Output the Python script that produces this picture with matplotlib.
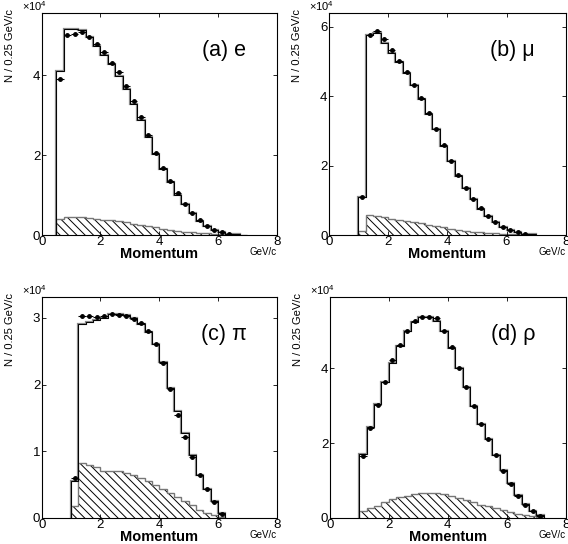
import matplotlib.pyplot as plt
import numpy as np

plt.rcParams['font.family'] = ['Liberation Sans', 'DejaVu Sans']
plt.rcParams['mathtext.fontset'] = 'custom'
plt.rcParams['mathtext.rm'] = 'Liberation Sans'
plt.rcParams['hatch.linewidth'] = 0.7

# valores en unidades de 1e4, bines de 0.25 GeV/c
inicio_e = 0.5
mc_e = [4.10, 5.14, 5.14, 5.12, 4.96, 4.72, 4.50, 4.27, 3.97, 3.64, 3.27, 2.87, 2.44,
        2.02, 1.64, 1.33, 1.00, 0.77, 0.54, 0.36, 0.22, 0.125, 0.07, 0.035, 0.015]
datos_e = [3.89, 5.00, 5.02, 5.08, 4.94, 4.77, 4.57, 4.31, 4.07, 3.72, 3.34, 2.94, 2.51,
           2.06, 1.68, 1.34, 1.04, 0.78, 0.56, 0.375, 0.23, 0.13, 0.07, 0.03]
fondo_e = [0.39, 0.46, 0.45, 0.44, 0.42, 0.40, 0.38, 0.37, 0.34, 0.32, 0.28, 0.25, 0.22,
           0.19, 0.16, 0.13, 0.11, 0.085, 0.065, 0.05, 0.04, 0.03, 0.02, 0.015, 0.01, 0.005]

inicio_mu = 1.0
mc_mu = [1.11, 5.78, 5.83, 5.54, 5.25, 4.98, 4.67, 4.32, 3.92, 3.50, 3.05, 2.58, 2.14,
         1.71, 1.35, 1.03, 0.76, 0.55, 0.38, 0.24, 0.145, 0.08, 0.04, 0.02]
datos_mu = [1.11, 5.78, 5.87, 5.64, 5.33, 5.02, 4.69, 4.32, 3.94, 3.51, 3.05, 2.59, 2.14,
            1.72, 1.35, 1.04, 0.77, 0.56, 0.385, 0.24, 0.145, 0.08, 0.04]
fondo_mu = [0.125, 0.58, 0.55, 0.51, 0.47, 0.44, 0.41, 0.375, 0.34, 0.30, 0.26, 0.22, 0.18,
            0.15, 0.125, 0.10, 0.077, 0.058, 0.045, 0.035, 0.025, 0.018, 0.01, 0.005]

inicio_pi = 1.0
mc_pi = [0.56, 2.91, 2.93, 2.96, 3.00, 3.05, 3.05, 3.04, 2.99, 2.91, 2.79, 2.61, 2.34,
         1.95, 1.60, 1.27, 0.94, 0.65, 0.44, 0.25, 0.08]
datos_pi = [0.60, 3.02, 3.02, 3.01, 3.02, 3.05, 3.04, 3.02, 2.98, 2.92, 2.80, 2.61, 2.33,
            1.94, 1.54, 1.22, 0.91, 0.65, 0.43, 0.24, 0.065]
fondo_pi = [0.175, 0.83, 0.80, 0.77, 0.71, 0.71, 0.70, 0.67, 0.64, 0.60, 0.56, 0.50, 0.44,
            0.38, 0.31, 0.25, 0.19, 0.125, 0.08, 0.04, 0.015]

inicio_rho = 1.0
mc_rho = [1.70, 2.42, 3.05, 3.64, 4.15, 4.60, 4.99, 5.24, 5.37, 5.37, 5.27, 4.99, 4.55,
          4.02, 3.49, 2.98, 2.52, 2.10, 1.67, 1.27, 0.93, 0.62, 0.38, 0.20, 0.07]
datos_rho = [1.66, 2.40, 3.01, 3.64, 4.21, 4.63, 5.00, 5.25, 5.37, 5.38, 5.33, 4.99, 4.56,
             4.01, 3.49, 2.98, 2.52, 2.10, 1.67, 1.26, 0.91, 0.60, 0.36, 0.185, 0.05]
fondo_rho = [0.18, 0.26, 0.33, 0.42, 0.50, 0.555, 0.60, 0.64, 0.67, 0.68, 0.66, 0.63, 0.58,
             0.53, 0.48, 0.42, 0.36, 0.31, 0.255, 0.21, 0.17, 0.12, 0.09, 0.06, 0.035]

paneles = [
    ('(a) e', inicio_e, mc_e, datos_e, fondo_e, [0, 2, 4], 5.55, [0.0734, 0.568, 0.414, 0.408]),
    ('(b) \u03bc', inicio_mu, mc_mu, datos_mu, fondo_mu, [0, 2, 4, 6], 6.4, [0.579, 0.568, 0.417, 0.408]),
    ('(c) \u03c0', inicio_pi, mc_pi, datos_pi, fondo_pi, [0, 1, 2, 3], 3.31, [0.0734, 0.0478, 0.414, 0.406]),
    ('(d) \u03c1', inicio_rho, mc_rho, datos_rho, fondo_rho, [0, 2, 4], 5.9, [0.5805, 0.0478, 0.416, 0.406]),
]

ancho = 0.25
fig = plt.figure(figsize=(5.68, 5.44), dpi=100)

for titulo, inicio, mc, datos, fondo, yticks, ymax, pos in paneles:
    ax = fig.add_axes(pos)
    b_mc = inicio + ancho * np.arange(len(mc) + 1)
    b_fondo = inicio + ancho * np.arange(len(fondo) + 1)
    x_datos = inicio + ancho * (np.arange(len(datos)) + 0.5)

    ax.stairs(fondo, b_fondo, fill=True, facecolor='white', edgecolor='black',
              hatch='\\\\\\\\', linewidth=0)
    ax.stairs(fondo, b_fondo, color='#777777', linewidth=1.0)
    ax.stairs(mc, b_mc, color='#888888', linewidth=1.6)
    ax.stairs(mc, b_mc, color='black', linewidth=0.7)
    ax.errorbar(x_datos, datos, xerr=ancho / 2, yerr=0.015, fmt='o', color='black',
                markersize=2.5, elinewidth=0.8, capsize=0)

    ax.set_xlim(0, 8)
    ax.set_ylim(0, ymax)
    ax.set_xticks([0, 2, 4, 6, 8])
    ax.set_yticks(yticks)
    ax.tick_params(direction='in', top=True, right=True, length=3, width=0.6,
                   labelsize=9.5, pad=1)
    for s in ax.spines.values():
        s.set_linewidth(0.8)

    ax.text(0.775, 0.83, titulo, transform=ax.transAxes, fontsize=15.5,
            ha='center', va='center')
    ax.text(-0.135, 1.02, 'N / 0.25 GeV/c', transform=ax.transAxes, rotation=90,
            fontsize=8, ha='center', va='top')
    ax.text(-0.085, 1.0, r'$\times10^{4}$', transform=ax.transAxes, fontsize=8,
            ha='left', va='bottom')
    ax.text(0.5, -0.085, 'Momentum', transform=ax.transAxes, fontsize=10.5,
            fontweight='bold', ha='center', va='center')
    ax.text(1.0, -0.075, 'GeV/c', transform=ax.transAxes, fontsize=7,
            ha='right', va='center')

fig.savefig('out.png', dpi=100)
